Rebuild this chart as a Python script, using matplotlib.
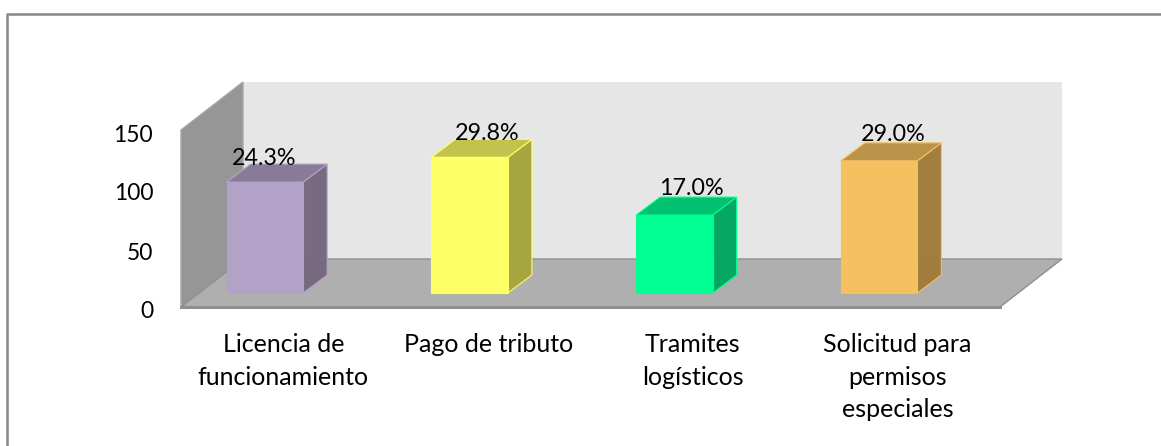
import matplotlib
matplotlib.use('Agg')
import matplotlib.pyplot as plt
from matplotlib.patches import Polygon, Rectangle
from matplotlib.transforms import ScaledTranslation

categorias = ['Licencia de\nfuncionamiento', 'Pago de tributo', 'Tramites\nlogísticos',
              'Solicitud para\npermisos\nespeciales']
valores = [94, 115, 66, 112]
etiquetas = ['24.3%', '29.8%', '17.0%', '29.0%']
marcas_y = [0, 50, 100, 150]

colores = ['#b3a2c7', '#ffff66', '#00ff92', '#f5c160']
colores_top = ['#887b98', '#c2c24e', '#00c270', '#ba9349']
colores_lado = ['#76697f', '#a6a63f', '#00a660', '#a07c3c']

plt.rcParams['font.family'] = ['Lato', 'DejaVu Sans']
W, H = 1161, 446
fig = plt.figure(figsize=(W / 100, H / 100), dpi=100)

# marco del grafico (solo izquierda y arriba)
fig.add_artist(plt.Line2D([7 / W, 7 / W, 1], [0, 1 - 14 / H, 1 - 14 / H],
                          color='#878787', lw=1.8))

# plano frontal: x 181-1000 px, y 307-130 px
ax = fig.add_axes([181 / W, 1 - 307 / H, 819 / W, 177 / H])
ax.set_xlim(-0.5, 3.5)
ax.set_ylim(0, 150)
ax.patch.set_visible(False)
for s in ax.spines.values():
    s.set_visible(False)

px_x = 4 / 819      # unidades de categoria por pixel
px_y = 150 / 177    # unidades de valor por pixel
fondo_x = 62 * px_x
fondo_y = 48 * px_y

# pared del fondo, pared izquierda y piso
ax.add_patch(Rectangle((-0.5 + fondo_x, fondo_y), 4, 150, fc='#e6e6e6', ec='none', clip_on=False, zorder=1))
ax.add_patch(Polygon([(-0.5, 0), (-0.5, 150), (-0.5 + fondo_x, 150 + fondo_y), (-0.5 + fondo_x, fondo_y)],
                     fc='#969696', ec='#a6a6a6', lw=1, clip_on=False, zorder=2))
ax.add_patch(Polygon([(-0.5, 0), (-0.5 + fondo_x, fondo_y), (3.5 + fondo_x, fondo_y), (3.5, 0)],
                     fc='#afafaf', ec='#8f8f8f', lw=1, clip_on=False, zorder=2))
ax.plot([-0.5, 3.5], [0, 0], color='#8f8f8f', lw=2.2, clip_on=False, zorder=3)

# barras con profundidad
ancho = 76.5 * px_x
prof_x = 24 * px_x
prof_y = 18 * px_y
despl_x = -18.5 * px_x
base = 14 * px_y

# corrimiento de cada etiqueta respecto de su categoria, en pixeles
nudge_x = [-19, -1, -1, -4]
nudge_y = [17, 17, 20, 20]

for i, v in enumerate(valores):
    x0 = i + despl_x - ancho / 2
    x1 = x0 + ancho
    y0 = base
    y1 = base + v
    ax.add_patch(Polygon([(x1, y0), (x1, y1), (x1 + prof_x, y1 + prof_y), (x1 + prof_x, y0 + prof_y)],
                         fc=colores_lado[i], ec=colores[i], lw=0.8, alpha=0.98, clip_on=False, zorder=4))
    ax.add_patch(Polygon([(x0, y1), (x1, y1), (x1 + prof_x, y1 + prof_y), (x0 + prof_x, y1 + prof_y)],
                         fc=colores_top[i], ec=colores[i], lw=0.8, clip_on=False, zorder=4))
    ax.add_patch(Rectangle((x0, y0), ancho, v, fc=colores[i], ec=colores[i], lw=0.8, clip_on=False, zorder=5))
    ax.text(i + nudge_x[i] * px_x, y1 + nudge_y[i] * px_y, etiquetas[i], ha='center', va='baseline',
            fontsize=16.8, color='black', zorder=6)

ax.set_yticks(marcas_y)
ax.set_yticklabels([str(m) for m in marcas_y], fontsize=16.5, color='black')
ax.tick_params(axis='y', length=0, pad=20)
for t in ax.get_yticklabels():
    t.set_transform(t.get_transform() + ScaledTranslation(0, -3 / 100, fig.dpi_scale_trans))

ax.set_xticks(range(len(categorias)))
ax.set_xticklabels(categorias, fontsize=18, color='black', linespacing=1.5)
ax.tick_params(axis='x', length=0, pad=19)

fig.savefig('out.png', dpi=100)
